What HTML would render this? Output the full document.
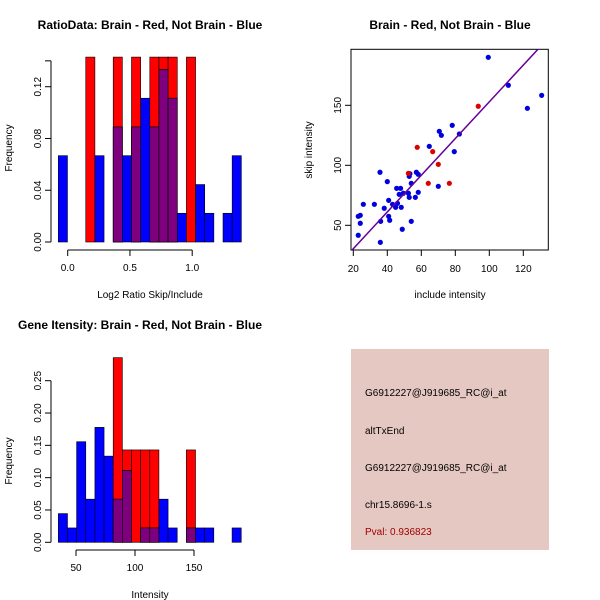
<!DOCTYPE html>
<html><head><meta charset="utf-8"><style>
html,body{margin:0;padding:0;background:#fff;}
svg{display:block;font-family:"Liberation Sans",sans-serif;}
</style></head><body>
<svg id="chart" width="600" height="600" viewBox="0 0 600 600" xmlns="http://www.w3.org/2000/svg">
<rect x="0" y="0" width="600" height="600" fill="#fff"/>
<text x="150" y="29" text-anchor="middle" font-size="12" font-weight="bold">RatioData: Brain - Red, Not Brain - Blue</text>
<text x="150" y="298" text-anchor="middle" font-size="10">Log2 Ratio Skip/Include</text>
<text transform="translate(12,148) rotate(-90)" text-anchor="middle" font-size="10">Frequency</text>
<text x="450" y="29" text-anchor="middle" font-size="12" font-weight="bold">Brain - Red, Not Brain - Blue</text>
<text x="450" y="298" text-anchor="middle" font-size="10">include intensity</text>
<text transform="translate(312,150) rotate(-90)" text-anchor="middle" font-size="10">skip intensity</text>
<text x="140" y="329" text-anchor="middle" font-size="12" font-weight="bold">Gene Itensity: Brain - Red, Not Brain - Blue</text>
<text x="150" y="598" text-anchor="middle" font-size="10">Intensity</text>
<text transform="translate(12,461) rotate(-90)" text-anchor="middle" font-size="10">Frequency</text>
<g>
<rect x="351" y="349" width="198" height="201" fill="#E6C8C2"/>
<text x="365" y="396" font-size="10">G6912227@J919685_RC@i_at</text>
<text x="365" y="434" font-size="10">altTxEnd</text>
<text x="365" y="471" font-size="10">G6912227@J919685_RC@i_at</text>
<text x="365" y="508" font-size="10">chr15.8696-1.s</text>
<text x="365" y="535" font-size="10" fill="#A00000">Pval: 0.936823</text>
</g>
</svg>
<script>
// Ratio histogram data
const ratioBinStart = -0.0755, ratioBinWidth = 0.0735;
const ratioBlue = [0.0667,0,0,0,0.0667,0,0.0889,0.0667,0.0889,0.1111,0.0889,0.1333,0.1111,0.0222,0,0.0444,0.0222,0,0.0222,0.0667];
const ratioRed  = [0,0,0,0.1429,0,0,0.1429,0,0.1429,0,0.1429,0.1429,0.1429,0,0.1429,0,0,0,0,0];
const ratioYTicks = [0,0.04,0.08,0.12];
const ratioYLabels = ["0.00","0.04","0.08","0.12"];
const ratioXTicks = [0,0.5,1.0];
const ratioXLabels = ["0.0","0.5","1.0"];
// Gene intensity histogram data
const geneBinStart = 35.03, geneBinWidth = 7.75;
const geneBlue = [0.0444,0.0222,0.1556,0.0667,0.1778,0.1333,0.0667,0.1111,0,0.0222,0.0222,0.0667,0.0222,0,0.0222,0.0222,0.0222,0,0,0.0222];
const geneRed  = [0,0,0,0,0,0,0.2857,0.1429,0.1429,0.1429,0.1429,0,0,0,0.1429,0,0,0,0,0];
const geneYTicks = [0,0.05,0.10,0.15,0.20,0.25];
const geneYLabels = ["0.00","0.05","0.10","0.15","0.20","0.25"];
const geneXTicks = [50,100,150];
const geneXLabels = ["50","100","150"];
// Scatter data
const redX = [52.4,57.6,66.7,70,64.1,76.5,93.5];
const redY = [93.3,115,111.4,100.8,85,85,149.2];
const blueX = [99.4,111.2,122.4,130.8,78.2,70.6,71.8,82.4,64.7,79.4,70,35.7,40,57.1,58.2,53.3,52.9,54.1,45.5,47.8,47,52.4,58.2,52.9,56.5,25.9,32.4,40.8,43.1,46,44.9,48.2,38.2,40.8,41.4,36.1,54.1,48.8,22.9,24.1,24.1,22.9,35.9,49.4];
const blueY = [190,166.7,147.5,158.3,133.3,128.3,125,126.1,115.8,111.4,82.5,94.2,86.4,94.2,92.5,93,90.8,85,80.8,80.8,75.8,76.7,77.5,73.3,73.3,67.5,67.5,70.8,67.5,68.3,65,65,64.2,57.5,54.2,53.3,53.3,46.7,57.5,58.3,51.7,41.7,35.8,76.7];
const fitSlope = 1.53, fitIntercept = -0.1;
const scXTicks = [20,40,60,80,100,120];
const scYTicks = [50,100,150];

const NS = "http://www.w3.org/2000/svg";
const svg = document.getElementById('chart');
function mk(tag, attrs, parent){ const e=document.createElementNS(NS,tag); for(const k in attrs) e.setAttribute(k,attrs[k]); (parent||svg).appendChild(e); return e; }

function hist(o){
  const xs = v => o.x0px + (v - o.x0) * o.xs;
  const ys = v => o.y0px - v * o.ys;
  const g = mk('g',{});
  
  
  for(let i=0;i<o.blue.length;i++){
    const l = xs(o.start + i*o.bw), r = xs(o.start + (i+1)*o.bw);
    const b=o.blue[i], rd=o.red[i];
    if(rd>0){ const e=mk('rect',{x:l,y:ys(rd),width:r-l,height:ys(0)-ys(rd),fill:'#FF0000',stroke:'#000','stroke-width':0.6},g);
      
       }
    if(b>0){ const e=mk('rect',{x:l,y:ys(b),width:r-l,height:ys(0)-ys(b),fill:'#0000FF',stroke:'#000','stroke-width':0.6},g);
      
       }
    const m=Math.min(b,rd);
    if(m>0){ const e=mk('rect',{x:l,y:ys(m),width:r-l,height:ys(0)-ys(m),fill:'#7F007F',stroke:'#000','stroke-width':0.6},g);
      
       }
  }
  const ya = mk('g',{});
  
  
  mk('line',{x1:o.yaxX,x2:o.yaxX,y1:ys(o.yt[0]),y2:ys(o.yt[o.yt.length-1]),stroke:'#000'},ya);
  o.yt.forEach((v,i)=>{ mk('line',{x1:o.yaxX-6,x2:o.yaxX,y1:ys(v),y2:ys(v),stroke:'#000'},ya);
    const t=mk('text',{transform:`translate(${o.yaxX-10},${ys(v)}) rotate(-90)`,'text-anchor':'middle','font-size':10},ya); t.textContent=o.yl[i]; });
  if(o.yExtra!==undefined){ mk('line',{x1:o.yaxX-6,x2:o.yaxX,y1:ys(o.yExtra),y2:ys(o.yExtra),stroke:'#000'},ya); mk('line',{x1:o.yaxX,x2:o.yaxX,y1:ys(0),y2:ys(o.yExtra),stroke:'#000'},ya); }
  const xa = mk('g',{});
  
  
  mk('line',{x1:xs(o.xt[0]),x2:xs(o.xt[o.xt.length-1]),y1:o.xaxY,y2:o.xaxY,stroke:'#000'},xa);
  o.xt.forEach((v,i)=>{ mk('line',{x1:xs(v),x2:xs(v),y1:o.xaxY,y2:o.xaxY+6,stroke:'#000'},xa);
    const t=mk('text',{x:xs(v),y:o.xaxY+21,'text-anchor':'middle','font-size':10},xa); t.textContent=o.xl[i]; });
}
hist({name:'ratio',x0:0,x0px:67.7,xs:124.5,y0px:242,ys:1294,start:ratioBinStart,bw:ratioBinWidth,blue:ratioBlue,red:ratioRed,
  yaxX:51,yt:ratioYTicks,yl:ratioYLabels,yExtra:0.14,xaxY:250,xt:ratioXTicks,xl:ratioXLabels});
hist({name:'gene',x0:50,x0px:76,xs:1.18,y0px:542.3,ys:646.4,start:geneBinStart,bw:geneBinWidth,blue:geneBlue,red:geneRed,
  yaxX:51,yt:geneYTicks,yl:geneYLabels,xaxY:550,xt:geneXTicks,xl:geneXLabels});

// scatter
const sx = v => 353.3 + (v-20)*1.7;
const sy = v => 225.3 - (v-50)*1.2;
const box = mk('rect',{x:351,y:49.3,width:197.3,height:200.7,fill:'none',stroke:'#000'});


const sxa = mk('g',{});


scXTicks.forEach(v=>{ mk('line',{x1:sx(v),x2:sx(v),y1:250,y2:256,stroke:'#000'},sxa);
  const t=mk('text',{x:sx(v),y:272,'text-anchor':'middle','font-size':10},sxa); t.textContent=String(v); });
const sya = mk('g',{});


scYTicks.forEach(v=>{ mk('line',{x1:345,x2:351,y1:sy(v),y2:sy(v),stroke:'#000'},sya);
  const t=mk('text',{transform:`translate(341,${sy(v)}) rotate(-90)`,'text-anchor':'middle','font-size':10},sya); t.textContent=String(v); });
const clip = mk('clipPath',{id:'scClip'}); mk('rect',{x:351,y:49.3,width:197.3,height:200.7},clip);
const pts = mk('g',{'clip-path':'url(#scClip)'});


blueX.forEach((x,i)=>{ const c=mk('circle',{cx:sx(x),cy:sy(blueY[i]),r:2.6,fill:'#0000DD'},pts);
  
   });
redX.forEach((x,i)=>{ const c=mk('circle',{cx:sx(x),cy:sy(redY[i]),r:2.6,fill:'#DD0000'},pts);
  
   });
const fl = mk('line',{x1:sx(15),y1:sy(fitIntercept+fitSlope*15),x2:sx(140),y2:sy(fitIntercept+fitSlope*140),stroke:'#660099','stroke-width':1.5},pts);


</script>
</body></html>
